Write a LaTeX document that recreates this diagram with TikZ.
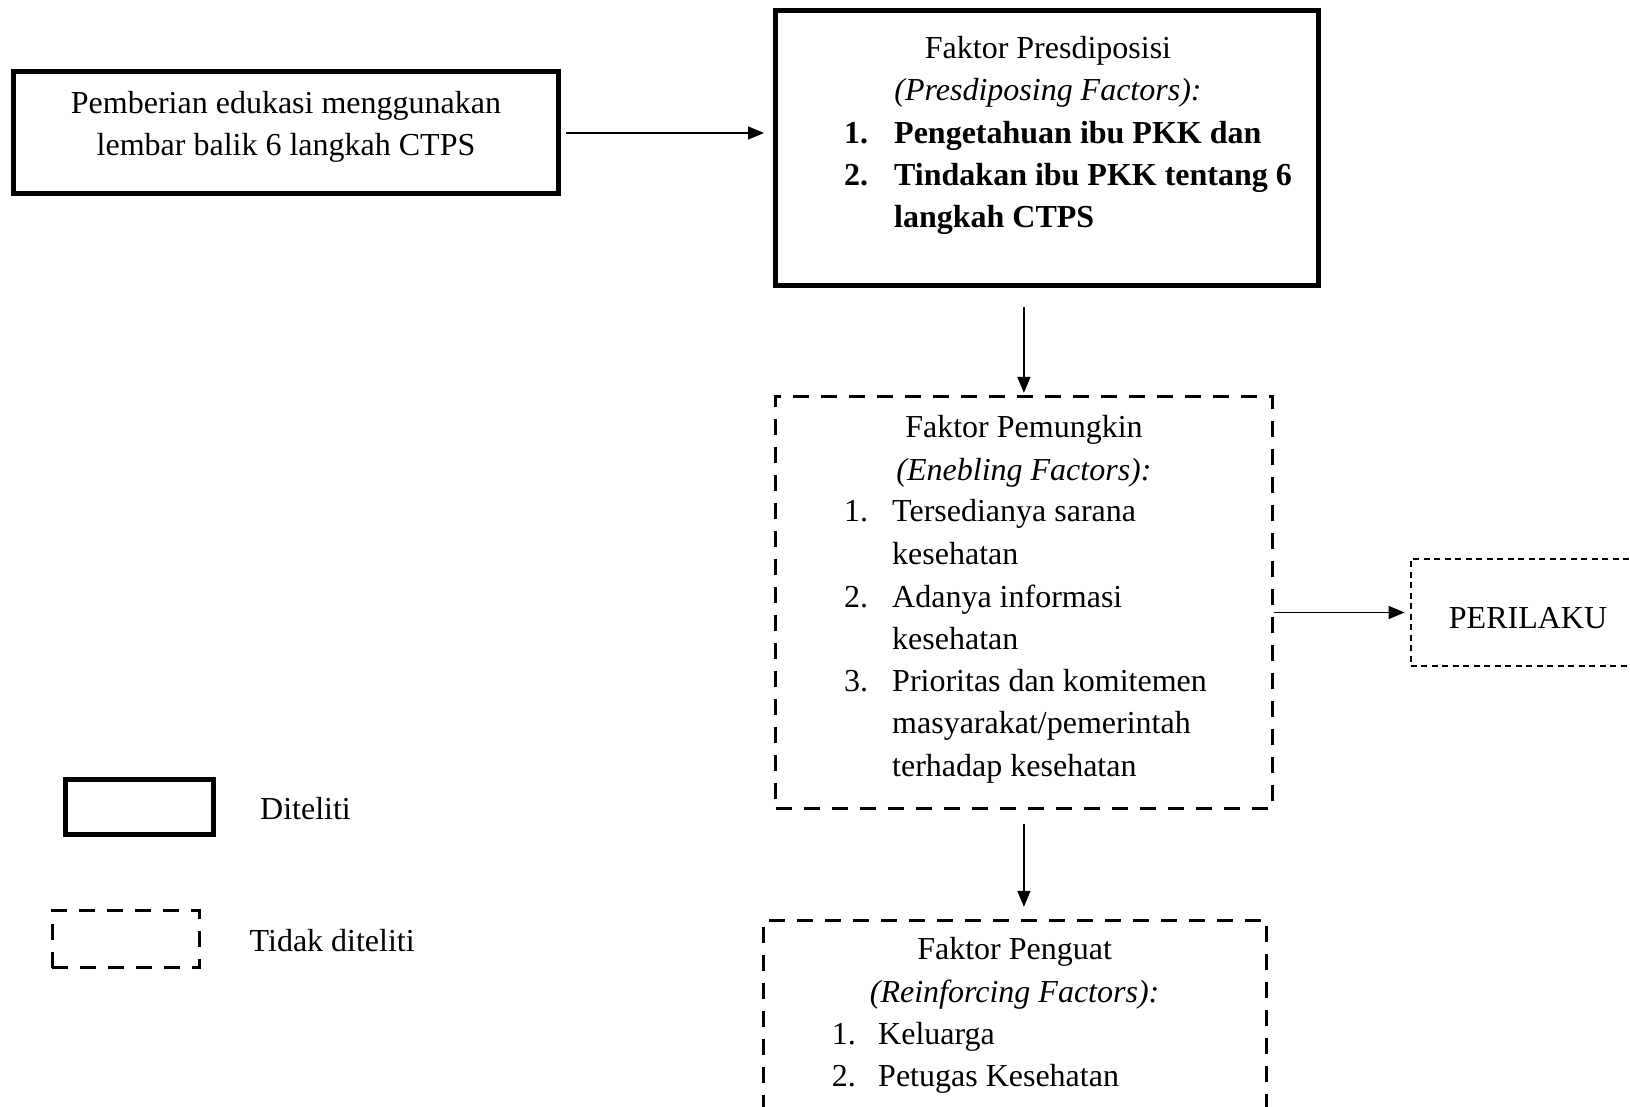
\documentclass[tikz,border=0pt]{standalone}
\usepackage{fontspec}
\setmainfont{Liberation Serif}
\usetikzlibrary{arrows.meta}
\begin{document}
\begin{tikzpicture}[x=1pt,y=-1pt,
  every node/.style={font=\fontsize{32}{42.6}\selectfont},
  thickbox/.style={draw, line width=5pt, rectangle, inner sep=0pt},
  dashbox/.style={draw, line width=2.8pt, rectangle, inner sep=0pt, dash pattern=on 16pt off 12pt},
  finedash/.style={draw, line width=2pt, rectangle, inner sep=0pt, dash pattern=on 6pt off 4.5pt},
  txt/.style={inner sep=0pt, anchor=base},
  lst/.style={inner sep=0pt, anchor=base west},
  arr/.style={line width=1.4pt, -{Triangle[length=16pt,width=13pt]}}]
\clip (0,0) rectangle (1630,1107);
\fill[white] (0,0) rectangle (1630,1107);
% boxes
\node[thickbox, minimum width=544.6pt, minimum height=122pt] (b1) at (286.2,133) {};
\node[thickbox, minimum width=543pt, minimum height=274.7pt] (b2) at (1047,148) {};
\node[dashbox, minimum width=496.5pt, minimum height=412.5pt] (b3) at (1023.9,602.5) {};
\node[finedash, minimum width=250pt, minimum height=107pt] (b4) at (1535.6,612.5) {};
\node[dashbox, minimum width=503.5pt, minimum height=218.5pt] (b5) at (1015,1029.5) {};
\node[thickbox, minimum width=147.6pt, minimum height=54.5pt] (l1) at (139.7,807.2) {};
\node[dashbox, minimum width=147pt, minimum height=57pt] (l2) at (125.8,939.3) {};
% box 1 text
\node[txt] (t11) at (286,114) {Pemberian edukasi menggunakan};
\node[txt] (t12) at (286,156) {lembar balik 6 langkah CTPS};
% box 2 text
\node[txt] (t21) at (1048,59) {Faktor Presdiposisi};
\node[txt] (t22) at (1048,101) {\itshape (Presdiposing Factors):};
\node[lst] (n23) at (844,144) {\bfseries 1.};
\node[lst] (t23) at (894,144) {\bfseries Pengetahuan ibu PKK dan};
\node[lst] (n24) at (844,186) {\bfseries 2.};
\node[lst] (t24) at (894,186) {\bfseries Tindakan ibu PKK tentang 6};
\node[lst] (t25) at (894,228) {\bfseries langkah CTPS};
% box 3 text
\node[txt] (t31) at (1024,437) {Faktor Pemungkin};
\node[txt] (t32) at (1024,480) {\itshape (Enebling Factors):};
\node[lst] (n33) at (844,521) {1.};
\node[lst] (t33) at (892,521) {Tersedianya sarana};
\node[lst] (t34) at (892,564) {kesehatan};
\node[lst] (n35) at (844,607) {2.};
\node[lst] (t35) at (892,607) {Adanya informasi};
\node[lst] (t36) at (892,649) {kesehatan};
\node[lst] (n37) at (844,691) {3.};
\node[lst] (t37) at (892,691) {Prioritas dan komitemen};
\node[lst] (t38) at (892,733.5) {masyarakat/pemerintah};
\node[lst] (t39) at (892,776) {terhadap kesehatan};
% perilaku
\node[txt] (t41) at (1528,628.5) {PERILAKU};
% box 5 text
\node[txt] (t51) at (1014.6,959) {Faktor Penguat};
\node[txt] (t52) at (1014.6,1002) {\itshape (Reinforcing Factors):};
\node[lst] (n53) at (831.6,1044) {1.};
\node[lst] (t53) at (878,1044) {Keluarga};
\node[lst] (n54) at (831.6,1086) {2.};
\node[lst] (t54) at (878,1086) {Petugas Kesehatan};
% legend
\node[lst] (ld1) at (260,819) {Diteliti};
\node[lst] (ld2) at (249.5,951) {Tidak diteliti};
% connectors
\draw[arr, shorten <=5pt, shorten >=9pt] (b1.east) -- (b1.east -| b2.west);
\draw[arr, shorten <=19pt, shorten >=2pt] (b2.south -| b3.north) -- (b3.north);
\draw[arr, shorten >=5pt] (b4.west -| b3.east) -- (b4.west);
\draw[arr, shorten <=14pt, shorten >=12pt] (b3.south) -- (b3.south |- b5.north);
\end{tikzpicture}
\end{document}
